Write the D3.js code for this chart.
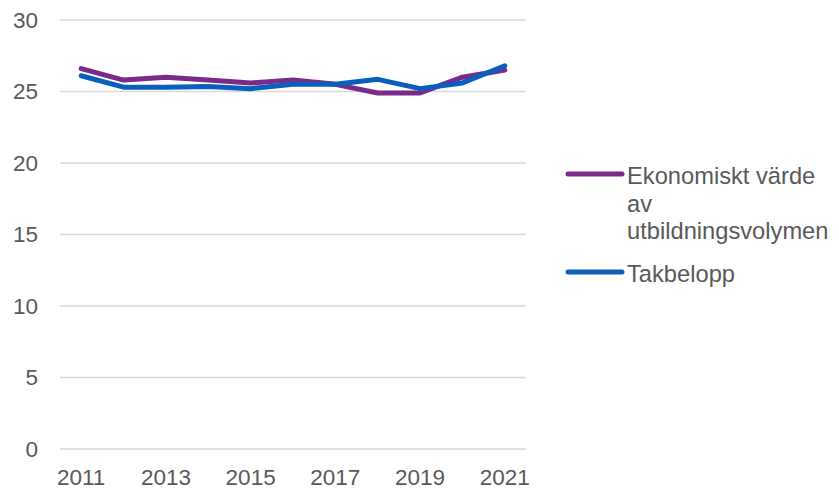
<!DOCTYPE html>
<html>
<head>
<meta charset="utf-8">
<script src="https://cdn.jsdelivr.net/npm/d3@7"></script>
<style>
  body { margin: 0; background: #fff; }
  svg { font-family: "Liberation Sans", Arial, sans-serif; }
</style>
</head>
<body>
<svg id="chart" width="839" height="490"></svg>
<script>
const years = [2011, 2012, 2013, 2014, 2015, 2016, 2017, 2018, 2019, 2020, 2021];
const ekonomisktVarde = [26.6, 25.8, 26.0, 25.8, 25.6, 25.8, 25.5, 24.9, 24.9, 26.0, 26.5];
const takbelopp = [26.1, 25.3, 25.3, 25.35, 25.2, 25.5, 25.5, 25.85, 25.2, 25.6, 26.8];
const yTicks = [0, 5, 10, 15, 20, 25, 30];
const xTickLabels = [2011, 2013, 2015, 2017, 2019, 2021];

const series = [
  { name: ['Ekonomiskt värde', 'av', 'utbildningsvolymen'], values: ekonomisktVarde, color: '#7a2a8a' },
  { name: ['Takbelopp'], values: takbelopp, color: '#0a5fbd' }
];

const svg = d3.select('#chart');
const plot = { left: 60, right: 526, top: 20, bottom: 449 };

const x = d3.scaleBand().domain(years).range([plot.left, plot.right]);
const y = d3.scaleLinear().domain([0, 30]).range([plot.bottom, plot.top]);

// Gridlines
svg.append('g')
  .selectAll('line')
  .data(yTicks)
  .join('line')
  .attr('x1', plot.left)
  .attr('x2', plot.right)
  .attr('y1', d => y(d))
  .attr('y2', d => y(d))
  .attr('stroke', '#d9d9d9')
  .attr('stroke-width', 1.5);

// Y axis labels
const yAxis = svg.append('g')
  .attr('transform', `translate(${plot.left - 22},0)`)
  .call(d3.axisLeft(y).tickValues(yTicks).tickSize(0).tickPadding(0));
yAxis.select('.domain').remove();
yAxis.selectAll('text')
  .attr('fill', '#595959')
  .style('font-size', '22.5px')
  .attr('font-family', '"Liberation Sans", Arial, sans-serif');

// X axis labels
const xAxis = svg.append('g')
  .attr('transform', `translate(0,${plot.bottom + 20})`)
  .call(d3.axisBottom(x).tickValues(xTickLabels).tickSize(0).tickPadding(0));
xAxis.select('.domain').remove();
xAxis.selectAll('text')
  .attr('fill', '#595959')
  .style('font-size', '22.5px')
  .attr('font-family', '"Liberation Sans", Arial, sans-serif');

// Lines
const line = d3.line()
  .x((d, i) => x(years[i]) + x.bandwidth() / 2)
  .y(d => y(d));

svg.append('g')
  .selectAll('path')
  .data(series)
  .join('path')
  .attr('d', d => line(d.values))
  .attr('fill', 'none')
  .attr('stroke', d => d.color)
  .attr('stroke-width', 5)
  .attr('stroke-linejoin', 'round')
  .attr('stroke-linecap', 'round');

// Legend
const legendY = [174, 272];
const legend = svg.append('g')
  .selectAll('g')
  .data(series)
  .join('g')
  .attr('transform', (d, i) => `translate(568,${legendY[i]})`);

legend.append('line')
  .attr('x1', 0)
  .attr('x2', 54)
  .attr('stroke', d => d.color)
  .attr('stroke-width', 5)
  .attr('stroke-linecap', 'round');

legend.append('text')
  .attr('x', 59)
  .attr('y', 10)
  .attr('fill', '#595959')
  .style('font-size', '23.7px')
  .selectAll('tspan')
  .data(d => d.name)
  .join('tspan')
  .attr('x', 59)
  .attr('dy', (d, i) => i === 0 ? 0 : 27.5)
  .text(d => d);
</script>
</body>
</html>
